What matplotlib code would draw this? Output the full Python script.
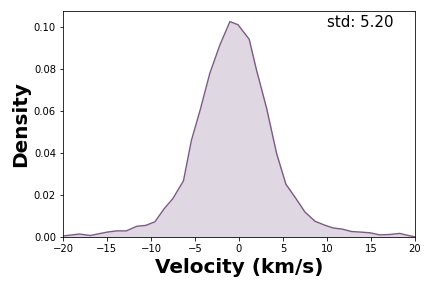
import matplotlib
matplotlib.use('Agg')
import matplotlib.pyplot as plt
import numpy as np

# velocity grid and density
velocity = [-20.0, -18.1, -16.9, -15.0, -13.9, -12.8, -11.6, -10.6, -9.55,
            -8.5, -7.5, -6.3, -5.4, -4.4, -3.3, -2.16, -1.02, -0.1, 1.17,
            2.0, 3.15, 4.28, 5.34, 6.48, 7.5, 8.64, 9.77, 10.7, 11.8, 12.8,
            13.9, 14.9, 16.0, 17.2, 18.3, 19.05, 20.0]
density = [0.0006, 0.0015, 0.0008, 0.0024, 0.0030, 0.0030, 0.0052, 0.0056, 0.0073,
           0.0135, 0.0184, 0.0268, 0.0460, 0.0605, 0.0780, 0.0914, 0.1025, 0.1010, 0.0941,
           0.0795, 0.0613, 0.0399, 0.0252, 0.0184, 0.0120, 0.0076, 0.0057, 0.0044, 0.0038, 0.0027,
           0.0024, 0.0021, 0.0011, 0.0013, 0.0018, 0.0010, 0.0002]
std = 5.20

color = '#7d5a85'

fig, ax = plt.subplots(figsize=(6, 4), dpi=72)
ax.plot(velocity, density, color=color, lw=1.4)
ax.fill_between(velocity, density, color=color, alpha=0.24, lw=0)
ax.set_xlim(-20, 20)
ax.set_ylim(bottom=0)
ax.set_xticks(np.arange(-20, 21, 5))
ax.set_xlabel('Velocity (km/s)', fontsize=20, fontweight='bold')
ax.set_ylabel('Density', fontsize=20, fontweight='bold')
ax.text(0.94, 0.98, 'std: %.2f' % std, transform=ax.transAxes,
        ha='right', va='top', fontsize=15)
plt.tight_layout()
plt.savefig('out.png')
